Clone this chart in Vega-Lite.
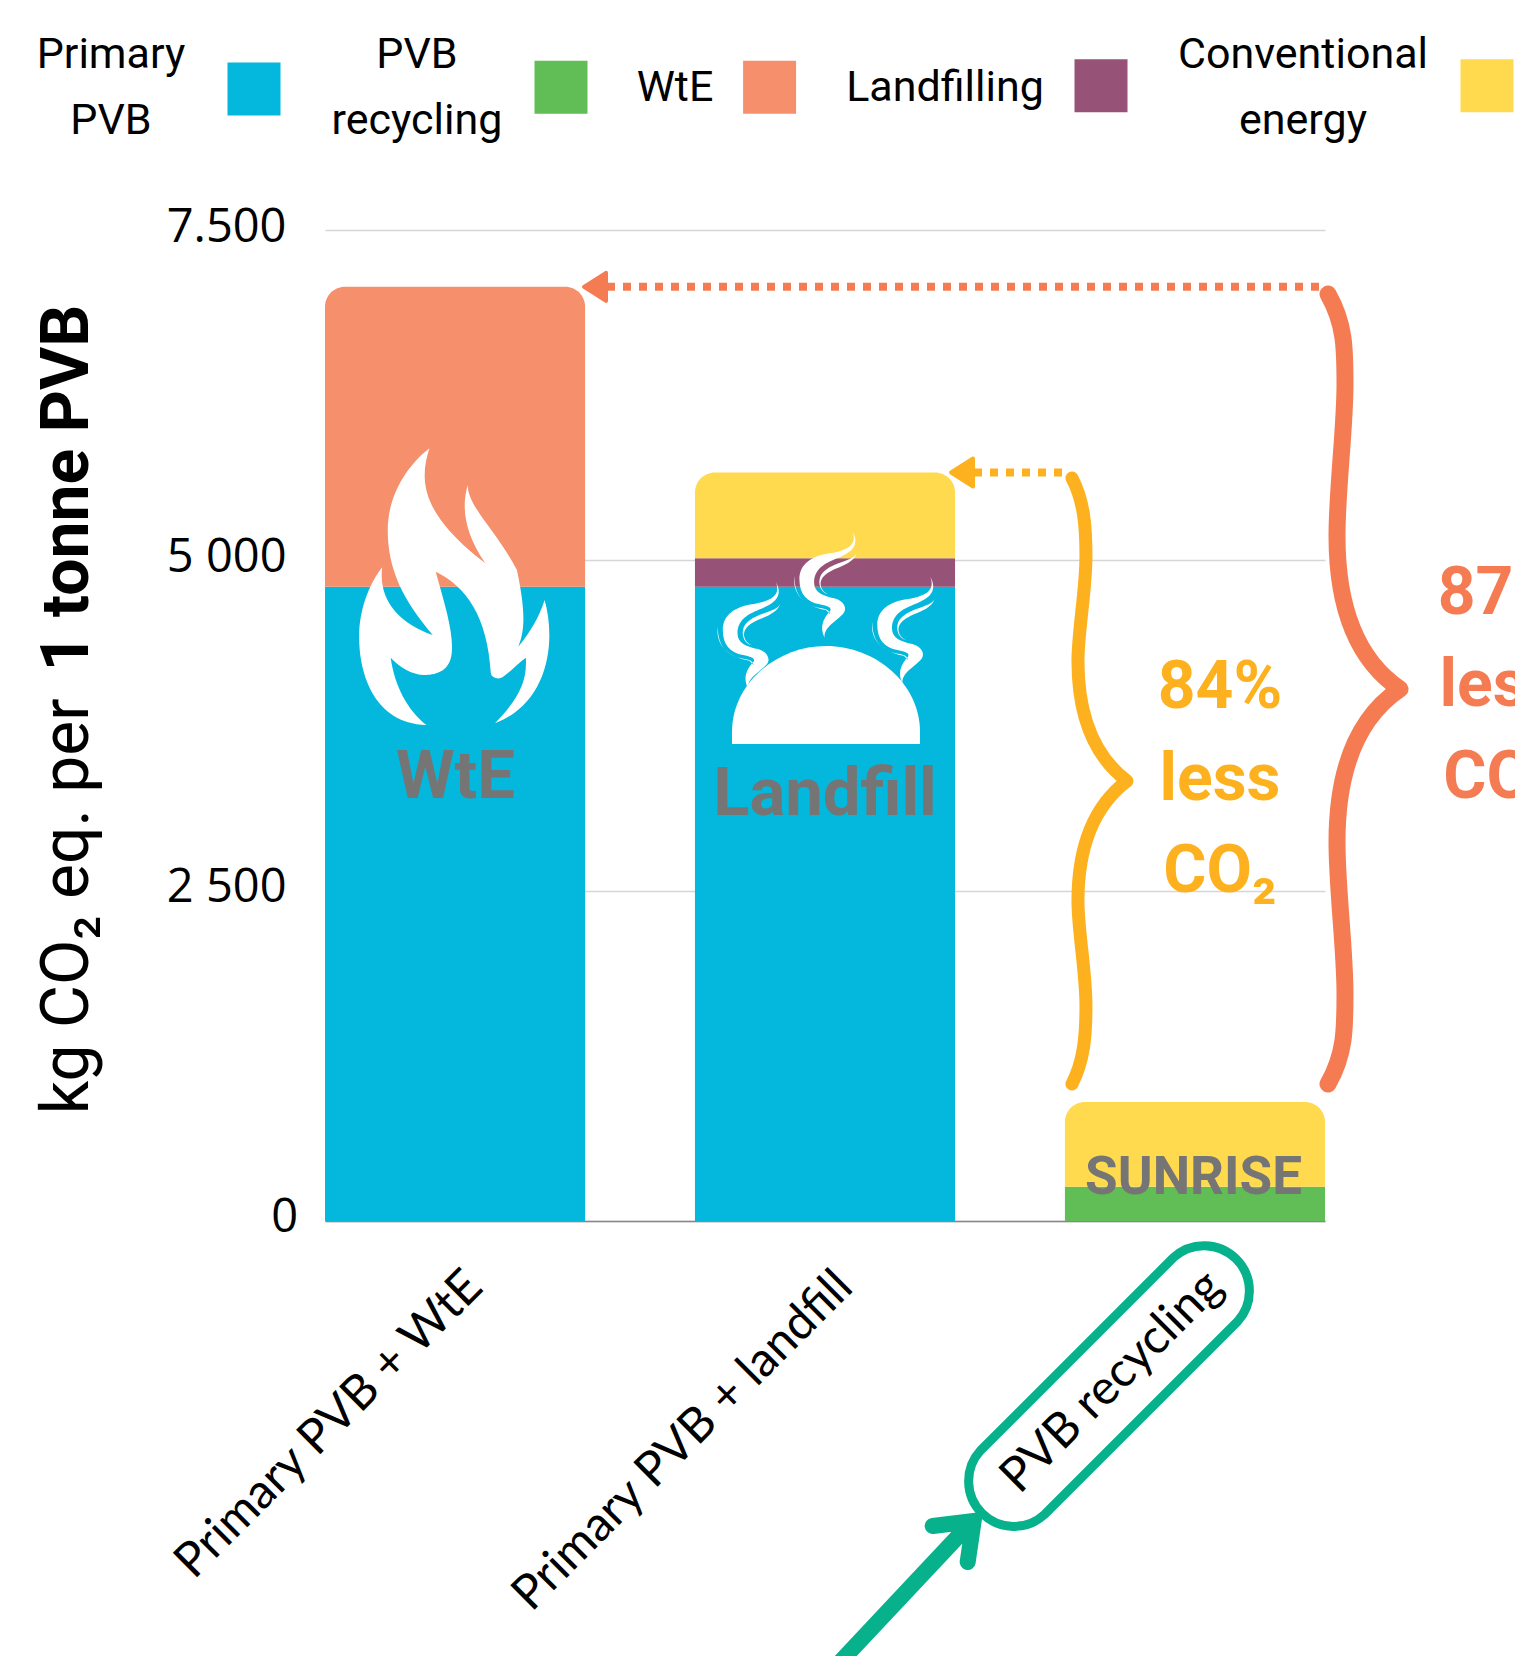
{
  "$schema": "https://vega.github.io/schema/vega-lite/v6.json",
  "autosize": {"type": "none"},
  "padding": {"left": 325, "top": 230, "right": 190, "bottom": 435},
  "width": 1000,
  "height": 991,
  "background": "white",
  "config": {"view": {"stroke": null}},
  "resolve": {"scale": {"x": "independent"}},
  "layer": [
    {
      "data": {"values": [
        {"scenario": "Primary PVB + WtE", "process": "Primary PVB", "step": 1, "value": 4800},
        {"scenario": "Primary PVB + WtE", "process": "WtE", "step": 2, "value": 2270},
        {"scenario": "Primary PVB + landfill", "process": "Primary PVB", "step": 1, "value": 4800},
        {"scenario": "Primary PVB + landfill", "process": "Landfilling", "step": 2, "value": 215},
        {"scenario": "Primary PVB + landfill", "process": "Conventional energy", "step": 3, "value": 650},
        {"scenario": "PVB recycling", "process": "PVB recycling", "step": 1, "value": 260},
        {"scenario": "PVB recycling", "process": "Conventional energy", "step": 2, "value": 640}
      ]},
      "transform": [
        {"stack": "value", "groupby": ["scenario"], "sort": [{"field": "step", "order": "ascending"}], "as": ["y0", "y1"]},
        {"joinaggregate": [{"op": "max", "field": "y1", "as": "total"}], "groupby": ["scenario"]}
      ],
      "encoding": {
        "x": {
          "field": "scenario", "type": "nominal", "sort": null,
          "scale": {"domain": ["Primary PVB + WtE", "Primary PVB + landfill", "PVB recycling"], "paddingInner": 0.297, "paddingOuter": 0},
          "axis": {
            "title": null, "ticks": false, "labelAngle": -45, "labelAlign": "right", "labelBaseline": "middle",
            "labelFont": "Lato", "labelFontSize": 48, "labelColor": "#000000", "labelPadding": 58, "labelOffset": 20,
            "labelLimit": 800, "labelOverlap": false, "domainColor": "#888888", "domainWidth": 1.5, "grid": false
          }
        },
        "y": {
          "field": "y1", "type": "quantitative",
          "scale": {"domain": [0, 7500], "nice": false},
          "axis": {
            "title": null, "values": [0, 2500, 5000, 7500], "ticks": false, "domain": false,
            "grid": true, "gridColor": "#d6d6d6", "gridWidth": 1.5,
            "labelFont": "Open Sans", "labelFontSize": 47, "labelColor": "#000000", "labelPadding": 39, "labelOffset": -3,
            "labelExpr": "datum.value == 7500 ? '7.500' : datum.value == 5000 ? '5 000' : datum.value == 2500 ? '2 500' : ''"
          }
        },
        "y2": {"field": "y0"},
        "color": {
          "field": "process", "type": "nominal", "legend": null,
          "scale": {
            "domain": ["Primary PVB", "PVB recycling", "WtE", "Landfilling", "Conventional energy"],
            "range": ["#03B8DC", "#61BD55", "#F68F6B", "#975277", "#FFDA4F"]
          }
        }
      },
      "layer": [
        {"transform": [{"filter": "datum.y1 < datum.total"}], "mark": {"type": "bar"}},
        {"transform": [{"filter": "datum.y1 >= datum.total"}], "mark": {"type": "bar", "cornerRadiusTopLeft": 20, "cornerRadiusTopRight": 20}}
      ]
    },
    {
      "encoding": {
        "x": {"field": "pos", "type": "quantitative", "scale": {"domain": [-0.35, 2.35], "nice": false, "zero": false}, "axis": null},
        "y": {
          "field": "val", "type": "quantitative",
          "scale": {"domain": [0, 7500], "nice": false},
          "axis": {
            "title": null, "values": [0, 2500, 5000, 7500], "ticks": false, "domain": false,
            "grid": true, "gridColor": "#d6d6d6", "gridWidth": 1.5,
            "labelFont": "Open Sans", "labelFontSize": 47, "labelColor": "#000000", "labelPadding": 39, "labelOffset": -3,
            "labelExpr": "datum.value == 7500 ? '7.500' : datum.value == 5000 ? '5 000' : datum.value == 2500 ? '2 500' : ''"
          }
        }
      },
      "layer": [
        {
          "data": {"values": [{"label": "0", "pos": -0.4229, "val": 23}]},
          "mark": {"type": "text", "font": "Open Sans", "fontSize": 47, "color": "#000000", "align": "right", "baseline": "middle"},
          "encoding": {"text": {"field": "label"}}
        },
        {
          "data": {"values": [
            {"pos": 0.0, "val": 4700}
          ]},
          "mark": {"type": "point", "filled": true, "opacity": 1, "color": "#ffffff", "size": 4,
            "shape": "M-25.2 -151.7 C-35.3 -120 -34.5 -86.7 30.7 -36.7 C7.6 -70 7.6 -96.7 13.1 -115 C13.1 -93.3 41.3 -70 62.3 -30 C70.7 10 70.7 30 63.6 46.7 C77 30 84 18 90 0 C102 43.3 93 103.3 40.4 123.3 C62.3 100 72.8 83.3 71.2 57.7 C60 66 52 76 45.5 78.3 C41 79 37 77 36.2 73.3 C32.9 16.7 11.8 -13.3 -18.9 -28.3 C-9.2 6.7 -0.8 33.3 -2.9 53.3 C-5 73.3 -21.9 75 -30 75 C-42.9 75 -55.5 66.7 -64 57.7 C-59.7 86.7 -47.1 110 -28.2 125 C-80.8 123.3 -95.5 73.3 -95.5 36.7 C-95.5 6.7 -82.9 -20 -72.4 -32.7 C-76.6 0 -55.5 23.3 -21.9 35 C-51.3 0 -66.9 -30 -66.9 -70 C-66.9 -106.7 -45 -136.7 -25.2 -151.7 Z"}
        },
        {
          "data": {"values": [
            {"pos": 1.0027, "val": 3610}
          ]},
          "mark": {"type": "point", "filled": true, "opacity": 1, "color": "#ffffff", "size": 4,
            "shape": "M-94 0 L-94 -12 C-94 -60 -50 -98 0 -98 C50 -98 94 -60 94 -12 L94 0 Z"}
        },
        {
          "data": {"values": [
            {"pos": 0.8672, "val": 4838},
            {"pos": 1.074, "val": 5222},
            {"pos": 1.2843, "val": 4876}
          ]},
          "mark": {"type": "point", "filled": true, "opacity": 1, "color": "#ffffff", "size": 4,
            "shape": "M0 0 C6.3 11.7 2.9 20 -13.9 26.7 C-28.6 32.3 -38.3 38.3 -38.3 51.7 C-38.3 61.7 -28.6 65 -18.1 67.3 C-7.6 70 -4.6 78.3 -9.7 83.3 C-18.1 91.7 -28.6 96.7 -27.8 106.7 C-32.8 96.7 -29.9 88.3 -22.3 80 C-20.2 76.7 -24.4 75 -32.8 73.3 C-45.5 71 -53 63.3 -53 48.3 C-53 33.3 -41.2 25 -22.3 22.3 C-3.4 19 5 13.3 0 0 Z M4.2 21.7 C2.9 30 -9.7 35 -18.1 38.3 C-28.6 43.3 -32.8 48.3 -31.6 55 C-30.7 58.3 -28.6 61.7 -24.4 63.3 C-30.7 61.7 -34.1 55 -32.8 48.3 C-31.6 40 -22.3 35.7 -13.9 32.3 C-3.4 28.3 2.9 26.7 4.2 21.7 Z M-58.1 45 C-60.2 61.7 -49.7 75 -26.5 79 L-22.3 83.3 C-23.1 80 -24.4 78.3 -30.7 77.3 C-47.6 75 -58.1 65 -58.1 45 Z"}
        },
        {
          "data": {"values": [
            {"label": "WtE", "pos": 0.0023, "val": 3349},
            {"label": "Landfill", "pos": 1.0, "val": 3224}
          ]},
          "mark": {"type": "text", "font": "Roboto", "fontWeight": "bold", "fontSize": 67, "color": "#757575", "align": "center", "baseline": "middle"},
          "encoding": {"text": {"field": "label"}}
        },
        {
          "data": {"values": [{"label": "SUNRISE", "pos": 1.995, "val": 325}]},
          "mark": {"type": "text", "font": "Roboto", "fontWeight": "bold", "fontSize": 53, "color": "#757575", "align": "center", "baseline": "middle"},
          "encoding": {"text": {"field": "label"}}
        },
        {
          "data": {"values": [{"pos": 0.4114, "to": 2.3419, "val": 7070}]},
          "mark": {"type": "rule", "color": "#F57C52", "strokeWidth": 8, "strokeDash": [8, 8]},
          "encoding": {"x2": {"field": "to"}}
        },
        {
          "data": {"values": [{"pos": 1.4023, "to": 1.6426, "val": 5665}]},
          "mark": {"type": "rule", "color": "#FDB11F", "strokeWidth": 8, "strokeDash": [8, 8]},
          "encoding": {"x2": {"field": "to"}}
        },
        {
          "data": {"values": [{"pos": 0.379, "val": 7070}]},
          "mark": {"type": "point", "filled": true, "opacity": 1, "fill": "#F57C52", "stroke": "#F57C52", "strokeWidth": 4, "strokeJoin": "round", "size": 4, "shape": "M11 -14 L-11 0 L11 14 Z"}
        },
        {
          "data": {"values": [{"pos": 1.37, "val": 5665}]},
          "mark": {"type": "point", "filled": true, "opacity": 1, "fill": "#FDB11F", "stroke": "#FDB11F", "strokeWidth": 4, "strokeJoin": "round", "size": 4, "shape": "M11 -14 L-11 0 L11 14 Z"}
        },
        {
          "data": {"values": [{"pos": 2.566, "val": 4026}]},
          "mark": {"type": "point", "filled": false, "opacity": 1, "stroke": "#F57C52", "strokeWidth": 17, "strokeCap": "round", "strokeJoin": "round", "size": 4,
            "shape": "M-77 -395 C-60 -365 -60 -340 -60 -305 C-60 -260 -68 -200 -68 -153 C-68 -70 -42 -25 -5 0 C-42 25 -68 70 -68 153 C-68 200 -60 260 -60 305 C-60 340 -60 365 -77 395"}
        },
        {
          "data": {"values": [{"pos": 1.818, "val": 3330}]},
          "mark": {"type": "point", "filled": false, "opacity": 1, "stroke": "#FDB11F", "strokeWidth": 13, "strokeCap": "round", "strokeJoin": "round", "size": 4,
            "shape": "M-56 -303 C-44 -280 -42 -255 -42 -225 C-42 -190 -50 -150 -50 -120 C-50 -60 -30 -22 -1 0 C-30 22 -50 60 -50 120 C-50 150 -42 190 -42 225 C-42 255 -44 280 -56 303"}
        },
        {
          "data": {"values": [{"label": "84%\nless\nCO₂", "pos": 2.0665, "val": 4035}]},
          "mark": {"type": "text", "font": "Roboto", "fontWeight": "bold", "fontSize": 66, "lineBreak": "\n", "lineHeight": 92, "color": "#FDB11F", "align": "center", "baseline": "middle"},
          "encoding": {"text": {"field": "label"}}
        },
        {
          "data": {"values": [{"label": "87%\nless\nCO₂", "pos": 2.8225, "val": 4747}]},
          "mark": {"type": "text", "font": "Roboto", "fontWeight": "bold", "fontSize": 66, "lineBreak": "\n", "lineHeight": 92, "color": "#F57C52", "align": "center", "baseline": "middle"},
          "encoding": {"text": {"field": "label"}}
        },
        {
          "data": {"values": [{"pos": 1.7668, "val": -1249}]},
          "mark": {"type": "point", "filled": false, "opacity": 1, "stroke": "#07B18C", "strokeWidth": 9, "size": 4,
            "shape": "M-128.5 64.5 L64.5 -128.5 A45.3 45.3 0 0 1 128.5 -64.5 L-64.5 128.5 A45.3 45.3 0 0 1 -128.5 64.5 Z"}
        },
        {
          "data": {"values": [{"pos": 1.4095, "val": -2240}]},
          "mark": {"type": "point", "filled": false, "opacity": 1, "stroke": "#07B18C", "strokeWidth": 16, "strokeCap": "round", "strokeJoin": "miter", "size": 4,
            "shape": "M-160 170 L-6 6 M-44 9 L-3 4 L-9 45"}
        },
        {
          "data": {"values": [
            {"process": "Primary PVB", "pos": -0.5417, "val": 8567},
            {"process": "PVB recycling", "pos": 0.2872, "val": 8580},
            {"process": "WtE", "pos": 0.8504, "val": 8580},
            {"process": "Landfilling", "pos": 1.7452, "val": 8592},
            {"process": "Conventional energy", "pos": 2.7874, "val": 8592}
          ]},
          "mark": {"type": "point", "shape": "square", "filled": true, "opacity": 1, "size": 2809},
          "encoding": {"color": {"field": "process", "type": "nominal", "legend": null}}
        },
        {
          "data": {"values": [
            {"label": "Primary\nPVB", "pos": -0.9278, "val": 8825},
            {"label": "PVB\nrecycling", "pos": -0.1016, "val": 8825},
            {"label": "WtE", "pos": 0.595, "val": 8575},
            {"label": "Landfilling", "pos": 1.324, "val": 8575},
            {"label": "Conventional\nenergy", "pos": 2.2906, "val": 8825}
          ]},
          "mark": {"type": "text", "font": "Roboto", "fontSize": 43, "lineBreak": "\n", "lineHeight": 66, "color": "#000000", "align": "center", "baseline": "middle"},
          "encoding": {"text": {"field": "label"}}
        },
        {
          "data": {"values": [{"label": "kg CO₂ eq. per", "pos": -0.9899, "val": 808}]},
          "mark": {"type": "text", "font": "Roboto", "fontSize": 66, "angle": 270, "color": "#000000", "align": "left", "baseline": "alphabetic"},
          "encoding": {"text": {"field": "label"}}
        },
        {
          "data": {"values": [{"label": "1 tonne PVB", "pos": -0.9899, "val": 4159}]},
          "mark": {"type": "text", "font": "Roboto", "fontWeight": "bold", "fontSize": 66, "angle": 270, "color": "#000000", "align": "left", "baseline": "alphabetic"},
          "encoding": {"text": {"field": "label"}}
        }
      ]
    }
  ]
}
